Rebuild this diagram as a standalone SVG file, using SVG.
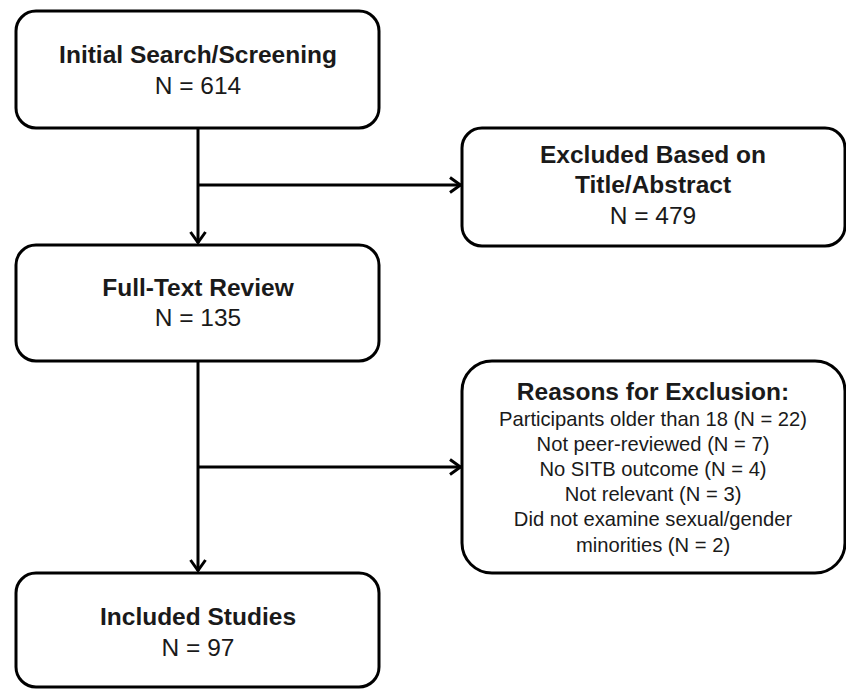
<svg xmlns="http://www.w3.org/2000/svg" width="846" height="689" viewBox="0 0 846 689">
<defs>
<style>
.box{fill:#fff;stroke:#000;stroke-width:3}
.t{font-family:"Liberation Sans",Arial,sans-serif;text-anchor:middle;fill:#1a1a1a}
.b{font-weight:bold;font-size:24.5px}
.n{font-size:24.5px}
.s{font-size:20.2px}
.c{fill:none;stroke:#000;stroke-width:3}
</style>
<marker id="arr" viewBox="0 0 16 18" refX="14" refY="9" markerWidth="16" markerHeight="18" markerUnits="userSpaceOnUse" orient="auto">
<path d="M3,1.5 L13.5,9 L3,16.5" fill="none" stroke="#000" stroke-width="3"/>
</marker>
</defs>
<rect width="846" height="689" fill="#fff"/>
<g id="connectors">
<path class="c" d="M198,128 V243" marker-end="url(#arr)"/>
<path class="c" d="M198,185 H461" marker-end="url(#arr)"/>
<path class="c" d="M198,361 V571" marker-end="url(#arr)"/>
<path class="c" d="M198,467 H461" marker-end="url(#arr)"/>
</g>
<g id="initial">
<rect class="box" x="16" y="11" width="363" height="117" rx="20"/>
<text class="t b" x="198" y="63">Initial Search/Screening</text>
<text class="t n" x="198" y="94">N = 614</text>
</g>
<g id="excluded">
<rect class="box" x="462" y="128" width="383" height="118" rx="20"/>
<text class="t b" x="653" y="163">Excluded Based on</text>
<text class="t b" x="653" y="193">Title/Abstract</text>
<text class="t n" x="653" y="224">N = 479</text>
</g>
<g id="fulltext">
<rect class="box" x="16" y="245" width="363" height="116" rx="20"/>
<text class="t b" x="198" y="296">Full-Text Review</text>
<text class="t n" x="198" y="326">N = 135</text>
</g>
<g id="reasons">
<rect class="box" x="462" y="361" width="383" height="212" rx="30"/>
<text class="t b" x="653" y="400">Reasons for Exclusion:</text>
<text class="t s" x="653" y="426">Participants older than 18 (N = 22)</text>
<text class="t s" x="653" y="451">Not peer-reviewed (N = 7)</text>
<text class="t s" x="653" y="476">No SITB outcome (N = 4)</text>
<text class="t s" x="653" y="501">Not relevant (N = 3)</text>
<text class="t s" x="653" y="526">Did not examine sexual/gender</text>
<text class="t s" x="653" y="552">minorities (N = 2)</text>
</g>
<g id="included">
<rect class="box" x="16" y="573" width="363" height="114" rx="20"/>
<text class="t b" x="198" y="625">Included Studies</text>
<text class="t n" x="198" y="656">N = 97</text>
</g>
</svg>
